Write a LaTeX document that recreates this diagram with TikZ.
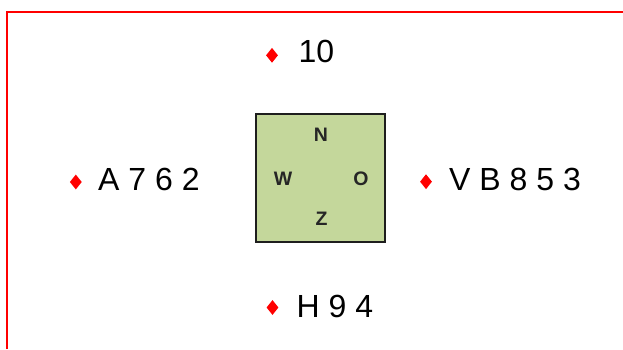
\documentclass[tikz,border=0pt]{standalone}
\usepackage{fontspec}
\setmainfont{Liberation Sans}
\usetikzlibrary{shapes.geometric}
\definecolor{boxgreen}{RGB}{196,215,155}
\definecolor{boxedge}{RGB}{30,30,30}
\tikzset{
  bullet/.style={diamond, fill=red, draw=none, inner sep=0pt,
    minimum width=12pt, minimum height=15pt},
  label/.style={anchor=base west, inner sep=0pt, text=black,
    font=\fontsize{32}{36}\selectfont},
  compass/.style={draw=boxedge, line width=1.6pt, fill=boxgreen,
    minimum width=129pt, minimum height=127.5pt, inner sep=0pt},
  dir/.style={inner sep=0pt, text=black!85,
    font=\fontsize{19.5}{22}\selectfont\bfseries},
  frame/.style={draw=red, line width=2.3pt}
}
\begin{document}
\begin{tikzpicture}[x=1pt, y=-1pt]
  \useasboundingbox (0,0) rectangle (623,349);
  % frame edges (top and left)
  \coordinate (fbl) at (7,349);
  \coordinate (ftr) at (623,12);
  \draw[frame] (fbl) |- (ftr);

  % compass box with direction letters
  \node[compass] (box) at (320.7,178) {};
  \node[dir] (n) at (321,134.7) {N};
  \node[dir] (w) at (283,178.3) {W};
  \node[dir] (o) at (361,178.3) {O};
  \node[dir] (z) at (321.5,218.3) {Z};

  % bullet labels
  \node[bullet] (b10) at (272,55.3) {};
  \node[label] (t10) at (298.5,62) {10};

  \node[bullet] (bA) at (75.8,182) {};
  \node[label] (tA) at (98,190.5) {A 7 6 2};

  \node[bullet] (bV) at (426,181.7) {};
  \node[label] (tV) at (449,190.7) {V B 8 5 3};

  \node[bullet] (bH) at (272.5,307.5) {};
  \node[label] (tH) at (296.5,317.3) {H 9 4};
\end{tikzpicture}
\end{document}
